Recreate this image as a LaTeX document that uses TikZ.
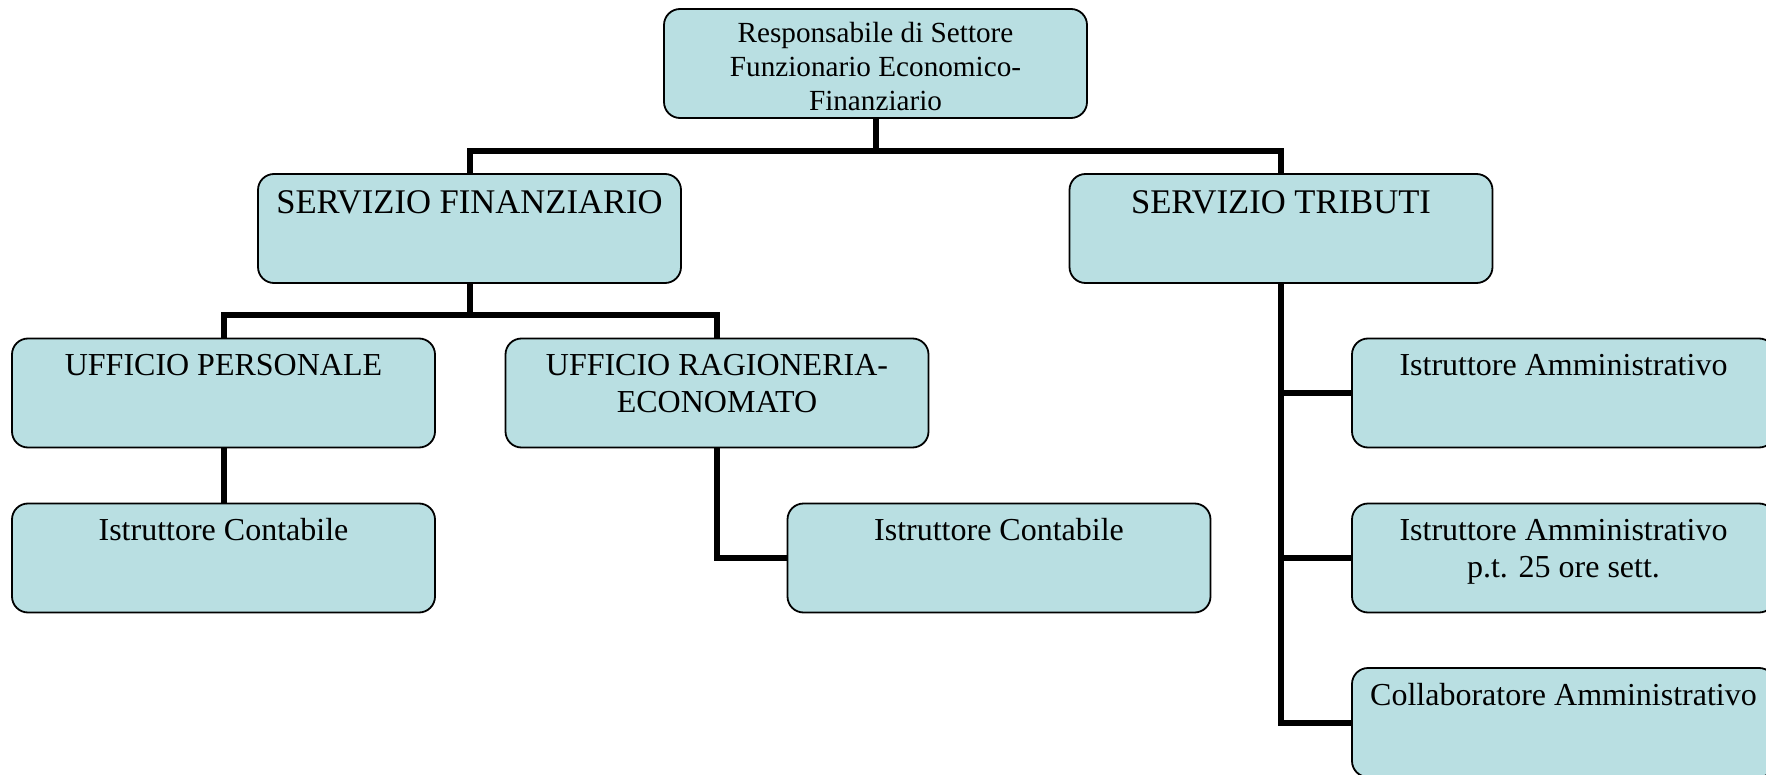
\documentclass[tikz,border=0pt]{standalone}
\usepackage{fontspec}
\setmainfont{Liberation Serif}
\definecolor{boxfill}{RGB}{185,223,226}
\newcommand{\boxtext}[2]{\parbox[c][54.5pt][t]{211.5pt}{\centering\rule{0pt}{#1}#2}}
\tikzset{
  orgbox/.style={draw, fill=boxfill, rounded corners=8pt, line width=0.9pt, inner sep=0pt,
    font=\fontsize{16}{18.4}\selectfont},
  headbox/.style={orgbox, font=\fontsize{14.6}{16.8}\selectfont},
  servbox/.style={orgbox, font=\fontsize{17.3}{20}\selectfont},
  link/.style={line width=3pt}
}
\begin{document}
\begin{tikzpicture}[x=0.5pt,y=-0.5pt]
        \useasboundingbox (0,0) rectangle (1766,775);

        % vertice
        \node[headbox] (resp) at (875.5,63.5) {\boxtext{17pt}{Responsabile di Settore\\Funzionario Economico-\\Finanziario}};

        % servizi
        \node[servbox] (fin) at (469.5,228.5) {\boxtext{19.5pt}{SERVIZIO FINANZIARIO}};
        \node[servbox] (trib) at (1281,228.5) {\boxtext{19.5pt}{SERVIZIO TRIBUTI}};

        % uffici
        \node[orgbox] (pers) at (223.5,393) {\boxtext{18.5pt}{UFFICIO PERSONALE}};
        \node[orgbox] (rag) at (717,393) {\boxtext{18.5pt}{UFFICIO RAGIONERIA-\\ECONOMATO}};
        \node[orgbox] (contA) at (223.5,558) {\boxtext{18.5pt}{Istruttore Contabile}};
        \node[orgbox] (contB) at (999,558) {\boxtext{18.5pt}{Istruttore Contabile}};

        % tributi
        \node[orgbox] (ammA) at (1563.5,393) {\boxtext{18.5pt}{Istruttore Amministrativo}};
        \node[orgbox] (ammB) at (1563.5,558) {\boxtext{18.5pt}{Istruttore Amministrativo\\p.t. 25 ore sett.}};
        \node[orgbox] (coll) at (1563.5,722.5) {\boxtext{18.5pt}{Collaboratore Amministrativo}};

        \draw[link] (resp.south) -- ++(0,32) -| (fin.north);
        \draw[link] (resp.south) -- ++(0,32) -| (trib.north);
        \draw[link] (fin.south) -- ++(0,31) -| (pers.north);
        \draw[link] (fin.south) -- ++(0,31) -| (rag.north);
        \draw[link] (pers.south) -- (contA.north);
        \draw[link] (rag.south) |- (contB.west);
        \foreach \n in {ammA,ammB,coll} {
             \draw[link] (trib.south) |- (\n.west);
        }
\end{tikzpicture}
\end{document}
